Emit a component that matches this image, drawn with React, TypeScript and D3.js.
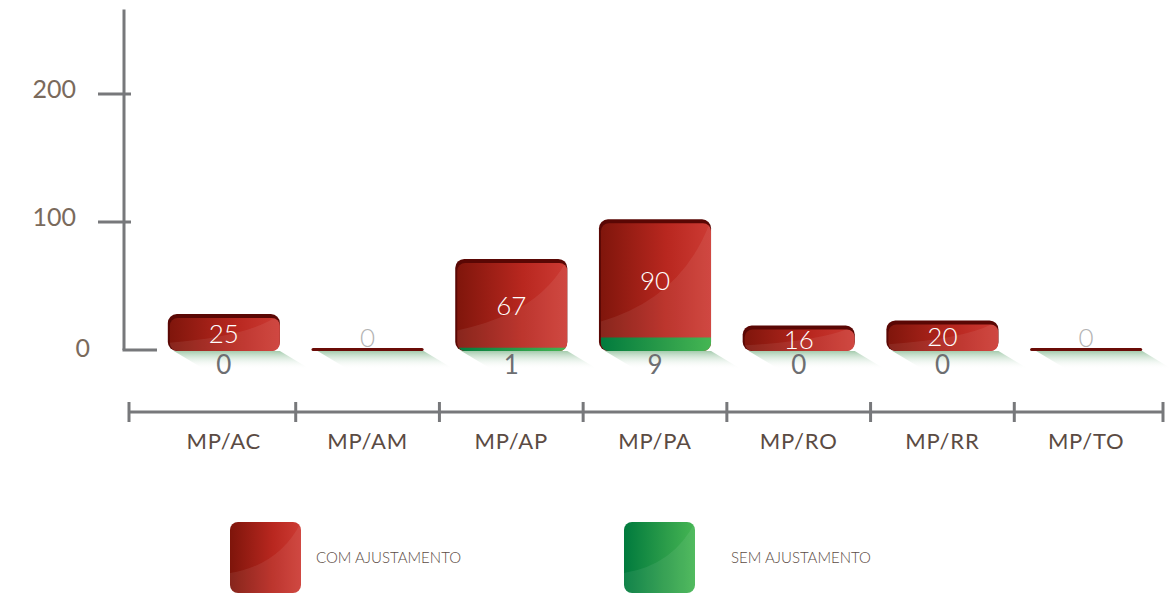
import React from 'react';
import * as d3 from 'd3';

const categories = ['MP/AC', 'MP/AM', 'MP/AP', 'MP/PA', 'MP/RO', 'MP/RR', 'MP/TO'];
const comAjuste = [25, 0, 67, 90, 16, 20, 0];
const semAjuste = [0, 0, 1, 9, 0, 0, 0];
const yTicks = [100, 200];
const legendLabels = ['COM AJUSTAMENTO', 'SEM AJUSTAMENTO'];

const W = 1172;
const H = 594;
const FONT = 'Lato, "Open Sans", sans-serif';
const AXIS = '#77787b';
const TEXT = '#5b4b43';

export default function App() {
  const y = d3.scaleLinear().domain([0, 200]).range([350, 94]);
  const x = d3.scaleBand<string>().domain(categories).range([152, 1158]).paddingInner(0.22).paddingOuter(0.11);
  const xa = d3.scaleBand<string>().domain(categories).range([152, 1158]);
  const bw = x.bandwidth();
  const yBase = y(0) + 1;
  const axisX = 124;
  const yTopAxis = y(266);

  const legendX = d3.scaleLinear().domain([0, 1]).range([230, 624]);
  const legendTextX = d3.scaleLinear().domain([0, 1]).range([316, 731]);

  return (
    <svg width={W} height={H} style={{ position: 'absolute', left: 0, top: 0 }} fontFamily={FONT} fontWeight={300}>
      <defs>
        <linearGradient id="red" x1="0" x2="1" y1="0" y2="0">
          <stop offset="0" stopColor="#7e150b" />
          <stop offset="0.6" stopColor="#b8271f" />
          <stop offset="1" stopColor="#cd3b34" />
        </linearGradient>
        <linearGradient id="green" x1="0" x2="1" y1="0" y2="0">
          <stop offset="0" stopColor="#007a3d" />
          <stop offset="0.6" stopColor="#2c9d4a" />
          <stop offset="1" stopColor="#45b653" />
        </linearGradient>
        <linearGradient id="shadow" x1="0" x2="0" y1="0" y2="1">
          <stop offset="0" stopColor="#9fc8a8" stopOpacity="0.95" />
          <stop offset="1" stopColor="#ffffff" stopOpacity="0" />
        </linearGradient>
      </defs>

      {/* y axis */}
      <line x1={axisX} x2={axisX} y1={yTopAxis} y2={y(0)} stroke={AXIS} strokeWidth={3} />
      <line x1={axisX - 1.5} x2={axisX + 33} y1={y(0)} y2={y(0)} stroke={AXIS} strokeWidth={3} />
      {yTicks.map((t) => (
        <g key={t}>
          <line x1={axisX - 26} x2={axisX + 7} y1={y(t)} y2={y(t)} stroke={AXIS} strokeWidth={3} />
          <text x={76} y={y(t) - 6} textAnchor="end" dominantBaseline="central" fontSize={25} fontWeight={400} fill="#7a6a5c">
            {t}
          </text>
        </g>
      ))}
      <text x={90} y={y(0) - 3} textAnchor="end" dominantBaseline="central" fontSize={25} fontWeight={400} fill="#7a6a5c">
        0
      </text>

      {/* bars */}
      {categories.map((c, i) => {
        const x0 = x(c)!;
        const com = comAjuste[i];
        const sem = semAjuste[i];
        const total = com + sem;
        const yTop = y(total) - 4;
        const shadowPts = [
          [x0 + 6, yBase],
          [x0 + bw, yBase],
          [x0 + bw + 30, yBase + 18],
          [x0 + 36, yBase + 18],
        ]
          .map((p) => p.join(','))
          .join(' ');
        const clipId = `clip${i}`;
        const h = yBase - yTop;
        return (
          <g key={c}>
            <polygon points={shadowPts} fill="url(#shadow)" />
            {total > 0 ? (
              <g>
                <clipPath id={clipId}>
                  <rect x={x0 + 2} y={yTop + 4} width={bw - 2} height={h - 4} rx={8} />
                </clipPath>
                <rect x={x0} y={yTop} width={bw} height={h} rx={9} fill="#5a0704" />
                <g clipPath={`url(#${clipId})`}>
                  <rect x={x0} y={yTop} width={bw} height={h} fill="url(#red)" />
                  <path
                    d={`M${x0},${yTop + h * 0.78} Q${x0 + bw * 0.75},${yTop + h * 0.6} ${x0 + bw},${yTop} L${x0 + bw},${yBase} L${x0},${yBase} Z`}
                    fill="#ffffff"
                    opacity={0.07}
                  />
                  {sem > 0 && (
                    <rect x={x0} y={y(sem) - 1} width={bw} height={yBase - y(sem) + 1} fill="url(#green)" />
                  )}
                </g>
              </g>
            ) : (
              <rect x={x0} y={yBase - 3} width={bw} height={3} rx={1.5} fill="#6a0c07" />
            )}
            {com > 0 ? (
              <text
                x={x0 + bw / 2}
                y={(yTop + 4 + y(sem)) / 2 - 1}
                textAnchor="middle"
                dominantBaseline="central"
                fontSize={26}
                fill="#ffffff"
              >
                {com}
              </text>
            ) : (
              <text x={x0 + bw / 2} y={yBase - 14} textAnchor="middle" dominantBaseline="central" fontSize={26} fill="#b3b3b3">
                {com}
              </text>
            )}
            {total > 0 && (
              <text x={x0 + bw / 2} y={yBase + 13} textAnchor="middle" dominantBaseline="central" fontSize={26} fontWeight={400} fill="#6d6e71">
                {sem}
              </text>
            )}
          </g>
        );
      })}

      {/* category axis */}
      <line x1={129} x2={1163} y1={412} y2={412} stroke={AXIS} strokeWidth={3} />
      {[129, ...categories.slice(1).map((c) => xa(c)!), 1163].map((tx, i) => (
        <line key={i} x1={tx} x2={tx} y1={402} y2={422} stroke={AXIS} strokeWidth={3} />
      ))}
      {categories.map((c) => (
        <text key={c} x={xa(c)! + xa.bandwidth() / 2} y={440} textAnchor="middle" dominantBaseline="central" fontSize={22} fontWeight={400} fill={TEXT} letterSpacing={0.8}>
          {c}
        </text>
      ))}

      {/* legend */}
      {legendLabels.map((l, i) => {
        const lx = legendX(i);
        return (
          <g key={l}>
            <rect x={lx} y={522} width={71} height={71} rx={8} fill={i === 0 ? 'url(#red)' : 'url(#green)'} />
            <path
              d={`M${lx},${522 + 71 * 0.72} Q${lx + 50},${522 + 71 * 0.6} ${lx + 71},${522} L${lx + 71},${593} L${lx},${593} Z`}
              fill="#ffffff"
              opacity={0.07}
            />
            <text x={legendTextX(i)} y={557} dominantBaseline="central" fontSize={15} fill={TEXT}>
              {l}
            </text>
          </g>
        );
      })}
    </svg>
  );
}
